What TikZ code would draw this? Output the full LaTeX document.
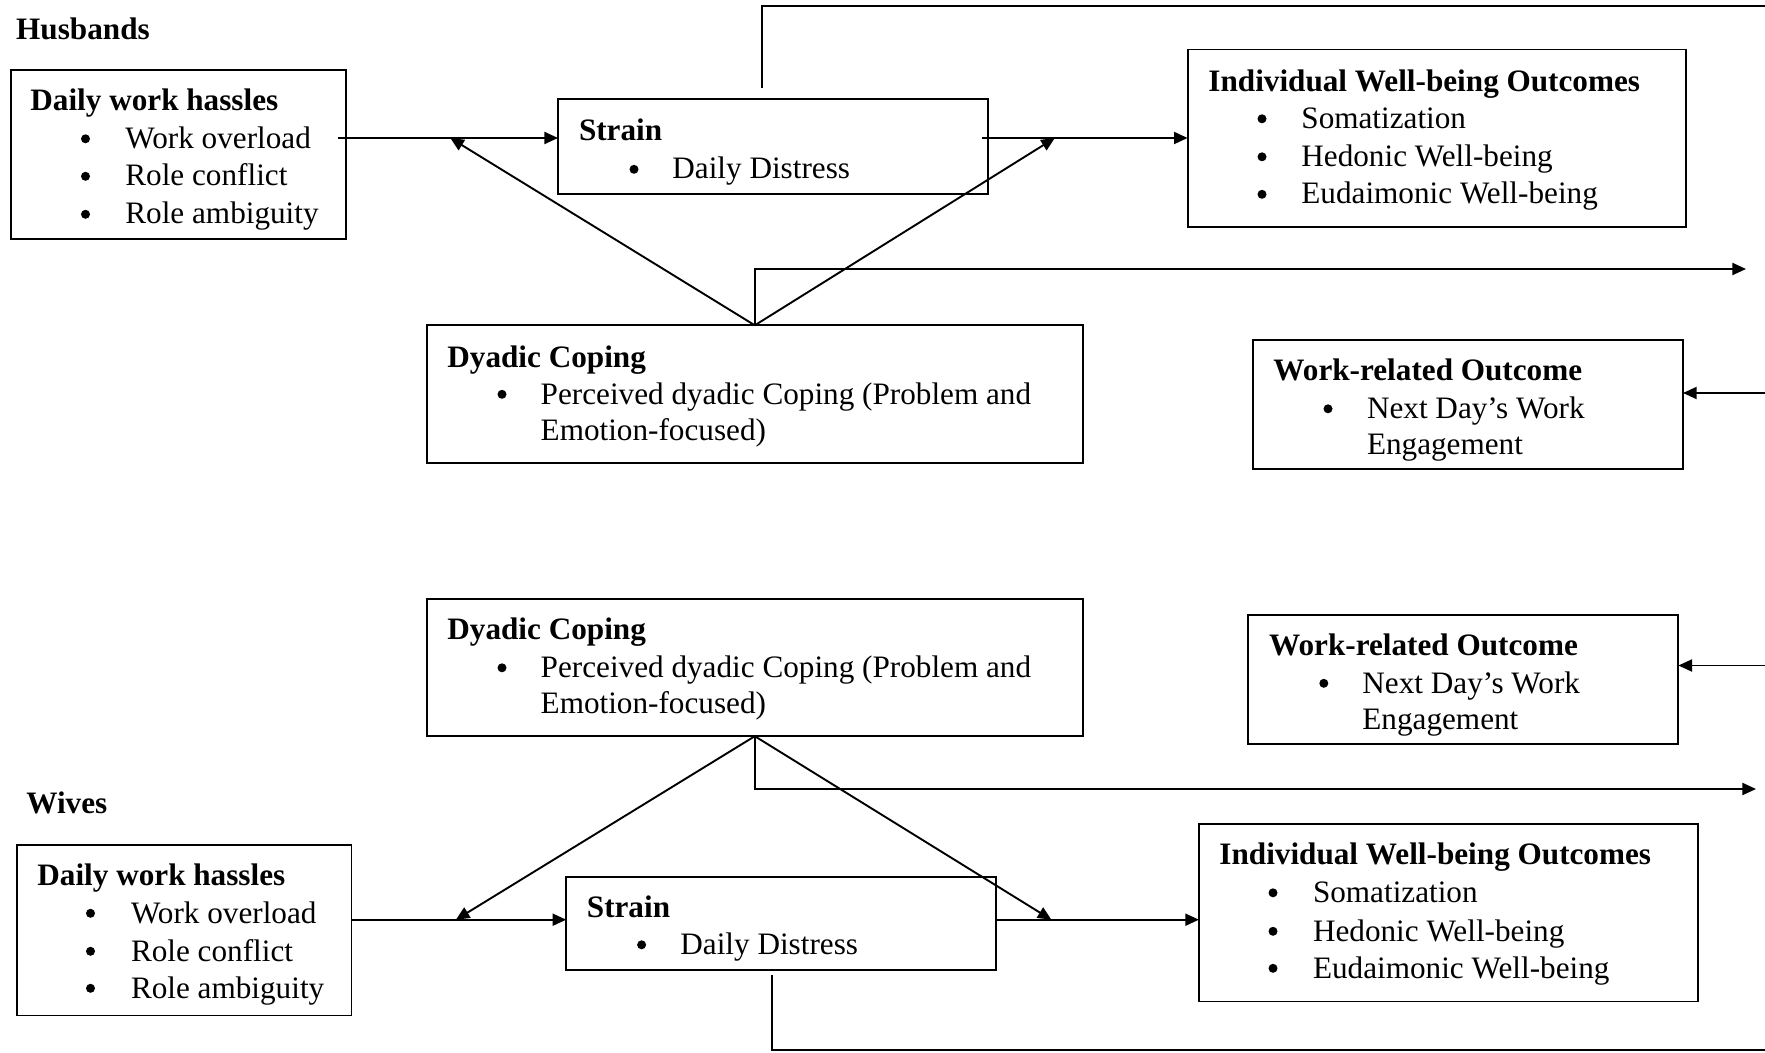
\documentclass[tikz,border=0pt]{standalone}
\usepackage{fontspec}
\setmainfont{Liberation Serif}
\usetikzlibrary{arrows.meta}

% box from its top-left to its bottom-right corner (picture units)
\newcommand\modelbox[5]{%
  \node[box, minimum width={(#4-(#2))*0.5pt}, minimum height={(#5-(#3))*0.5pt}] (#1) at (#2,#3) {};}
% bulleted line: name, bullet centre x, text x, baseline y, text
\newcommand\bitem[5]{%
  \node[dot] (#1b) at (#2,#4-7.2) {};
  \node[txt, anchor=base west] (#1) at (#3,#4) {#5};}

\begin{document}
\begin{tikzpicture}[x=0.5pt,y=-0.5pt,
  box/.style={draw, line width=0.95pt, inner sep=0pt, outer sep=0pt, anchor=north west},
  dot/.style={circle, fill, inner sep=0pt, minimum size=4.5pt},
  txt/.style={inner sep=0pt, yshift=-1.25pt, font=\fontsize{15.6}{18.9}\selectfont},
  ttl/.style={txt, font=\fontsize{15.6}{18.9}\selectfont\bfseries, anchor=base west},
  conn/.style={line width=0.95pt},
  arr/.style={conn, -{Triangle[length=6.8pt,width=6pt]}},
]
\useasboundingbox (0,0) rectangle (1765,1053);

% ---------------- Husbands ----------------
\node[ttl] (hlabel) at (15.8,37) {Husbands};

\modelbox{hdwh}{11}{70}{346}{239}
\node[ttl] (hdwht) at (30,108) {Daily work hassles};
\bitem{hdwh1}{85.5}{125}{146}{Work overload}
\bitem{hdwh2}{85.5}{125}{183.5}{Role conflict}
\bitem{hdwh3}{85.5}{125}{221.5}{Role ambiguity}

\modelbox{hstr}{558}{99}{988}{194}
\node[ttl] (hstrt) at (578.6,138) {Strain};
\bitem{hstr1}{634}{672}{176.5}{Daily Distress}

\modelbox{hiwo}{1187.6}{49.5}{1686.3}{227.4}
\node[ttl] (hiwot) at (1208,89) {Individual Well-being Outcomes};
\bitem{hiwo1}{1262}{1301}{126}{Somatization}
\bitem{hiwo2}{1262}{1301}{164}{Hedonic Well-being}
\bitem{hiwo3}{1262}{1301}{201.5}{Eudaimonic Well-being}

\modelbox{hdc}{426.6}{325.3}{1083}{462.7}
\node[ttl] (hdct) at (447,364.5) {Dyadic Coping};
\bitem{hdc1}{502}{540.3}{401.5}{Perceived dyadic Coping (Problem and}
\node[txt, anchor=base west] (hdc2) at (540.3,437.5) {Emotion-focused)};

\modelbox{hwro}{1253}{340}{1683}{469.4}
\node[ttl] (hwrot) at (1273,377.5) {Work-related Outcome};
\bitem{hwro1}{1328}{1366.6}{416}{Next Day’s Work}
\node[txt, anchor=base west] (hwro2) at (1366.6,452) {Engagement};

% ---------------- Wives ----------------
\node[ttl] (wlabel) at (26,810.5) {Wives};

\modelbox{wdc}{426.6}{598.9}{1083}{736.2}
\node[ttl] (wdct) at (447,636.5) {Dyadic Coping};
\bitem{wdc1}{502}{540.3}{675}{Perceived dyadic Coping (Problem and}
\node[txt, anchor=base west] (wdc2) at (540.3,711) {Emotion-focused)};

\modelbox{wwro}{1248.4}{614.6}{1678.4}{744.1}
\node[ttl] (wwrot) at (1268.7,652.5) {Work-related Outcome};
\bitem{wwro1}{1323.8}{1362}{690.5}{Next Day’s Work}
\node[txt, anchor=base west] (wwro2) at (1362,726.5) {Engagement};

\modelbox{wdwh}{17}{845}{351.5}{1015.5}
\node[ttl] (wdwht) at (37,883) {Daily work hassles};
\bitem{wdwh1}{90.5}{130.6}{920.5}{Work overload}
\bitem{wdwh2}{90.5}{130.6}{958.5}{Role conflict}
\bitem{wdwh3}{90.5}{130.6}{995.5}{Role ambiguity}

\modelbox{wstr}{566.2}{877}{996.2}{970.4}
\node[ttl] (wstrt) at (586.5,914.5) {Strain};
\bitem{wstr1}{641.6}{680}{952}{Daily Distress}

\modelbox{wiwo}{1198.9}{824}{1697.6}{1001.5}
\node[ttl] (wiwot) at (1219,862) {Individual Well-being Outcomes};
\bitem{wiwo1}{1273}{1312.6}{900}{Somatization}
\bitem{wiwo2}{1273}{1312.6}{938.5}{Hedonic Well-being}
\bitem{wiwo3}{1273}{1312.6}{975.5}{Eudaimonic Well-being}

% ---------------- connector anchors ----------------
\coordinate (hrow) at (0,138);
\coordinate (hmL) at (450.3,138);
\coordinate (hmR) at (1054.8,138);
\coordinate (hfb) at (1746,269);
\coordinate (hin) at (1765,393);
\coordinate (hup) at (762,88);
\coordinate (htop) at (1765,5.6);

\coordinate (wrow) at (0,919.7);
\coordinate (wmL) at (455.9,919.7);
\coordinate (wmR) at (1051.4,919.7);
\coordinate (wfb) at (1756,789);
\coordinate (win) at (1765,665.5);
\coordinate (wdown) at (772.2,975);
\coordinate (wbot) at (1765,1050);

% ---------------- husbands paths ----------------
\draw[arr] ([xshift=-4pt]hdwh.east |- hrow) -- (hstr.west |- hrow);
\draw[arr] ([xshift=-3pt]hstr.east |- hrow) -- (hiwo.west |- hrow);
\draw[arr] (hdc.north) -- (hmL);
\draw[arr] (hdc.north) -- (hmR);
\draw[arr] (hdc.north) -- (hdc.north |- hfb) -- (hfb);
\draw[arr] (hin) -- (hwro.east |- hin);
\draw[conn] (hup) -- (hup |- htop) -- (htop);

% ---------------- wives paths ----------------
\draw[arr] (wdwh.east |- wrow) -- (wstr.west |- wrow);
\draw[arr] (wstr.east |- wrow) -- (wiwo.west |- wrow);
\draw[arr] (wdc.south) -- (wmL);
\draw[arr] (wdc.south) -- (wmR);
\draw[arr] (wdc.south) -- (wdc.south |- wfb) -- (wfb);
\draw[arr] (win) -- (wwro.east |- win);
\draw[conn] (wdown) -- (wdown |- wbot) -- (wbot);
\end{tikzpicture}
\end{document}
